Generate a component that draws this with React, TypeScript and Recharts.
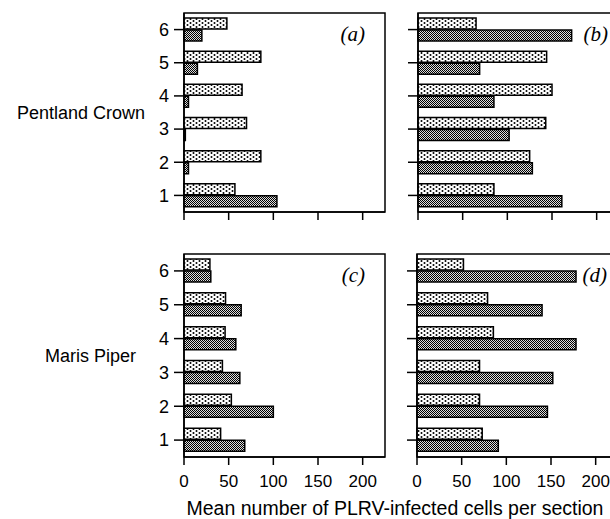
import { BarChart, Bar, XAxis, YAxis, ReferenceArea } from "recharts";

// rows are plant numbers 1..6 (6 drawn at the top)
const categories = ["1", "2", "3", "4", "5", "6"];
const xTicks = [0, 50, 100, 150, 200];

// Pentland Crown
const aLight = [57, 86, 70, 65, 86, 48];
const aDark = [104, 5, 1.5, 5, 15, 20];
const bLight = [85, 125, 143, 150, 144, 65];
const bDark = [161, 128, 102, 85, 69, 172];

// Maris Piper
const cLight = [41, 53, 43, 46, 46.5, 29];
const cDark = [68, 100, 62.5, 58, 64, 30];
const dLight = [73, 70, 70, 85.5, 79, 52];
const dDark = [91, 146, 152, 178, 140, 178];

const SANS = "'Liberation Sans', Arial, sans-serif";
const SERIF = "'Liberation Serif', 'Times New Roman', serif";

const toRows = (light: number[], dark: number[]) =>
  categories.map((cat, i) => ({ cat, light: light[i], dark: dark[i] }));

type PanelProps = {
  light: number[];
  dark: number[];
  left: number;
  top: number;
  yWidth: number;
  marginTop: number;
  height: number;
  xHeight: number;
  showY: boolean;
  showX: boolean;
  tag: string;
  tagRight: number;
  rowLabel?: string;
  rowLabelOffset?: number;
};

function Panel(p: PanelProps) {
  const data = toRows(p.light, p.dark);
  const width = p.yWidth + 201 + 5;
  return (
    <div style={{ position: "absolute", left: p.left, top: p.top }}>
      <BarChart
        width={width}
        height={p.height}
        data={data}
        layout="vertical"
        margin={{ top: p.marginTop, right: 5, left: 0, bottom: 0 }}
        barSize={11}
        barGap={1}
      >
        <XAxis
          type="number"
          domain={[0, 225]}
          ticks={xTicks}
          height={p.xHeight}
          tickSize={8}
          tickMargin={10}
          axisLine={{ stroke: "#000", strokeWidth: 1.5 }}
          tickLine={{ stroke: "#000", strokeWidth: 1.5 }}
          tick={{ fill: "#000", fontSize: 17, fontFamily: SANS }}
          tickFormatter={(v) => (p.showX ? String(v) : "")}
        />
        <YAxis
          type="category"
          dataKey="cat"
          reversed
          width={p.yWidth}
          tickSize={10}
          tickMargin={5}
          axisLine={{ stroke: "#000", strokeWidth: 1.5 }}
          tickLine={{ stroke: "#000", strokeWidth: 1.5 }}
          tick={{ fill: "#000", fontSize: 18, fontFamily: SANS }}
          tickFormatter={(v) => (p.showY ? v : "")}
          label={
            p.rowLabel
              ? {
                  value: p.rowLabel,
                  position: "insideLeft",
                  offset: p.rowLabelOffset,
                  fill: "#000",
                  fontSize: 18,
                  fontFamily: SANS,
                }
              : undefined
          }
        />
        <ReferenceArea
          x1={0}
          x2={225}
          fill="none"
          fillOpacity={0}
          stroke="#000"
          strokeWidth={1.5}
          ifOverflow="visible"
          label={(lp: any) => {
            const vb = lp.viewBox || {};
            return (
              <text
                x={vb.x + vb.width - p.tagRight}
                y={vb.y + 28}
                textAnchor="end"
                fontFamily={SERIF}
                fontStyle="italic"
                fontSize={21}
                fill="#000"
              >
                {p.tag}
              </text>
            );
          }}
        />
        <Bar
          dataKey="light"
          fill="url(#dots)"
          stroke="#000"
          strokeWidth={1.5}
          isAnimationActive={false}
        />
        <Bar
          dataKey="dark"
          fill="url(#hatch)"
          stroke="#000"
          strokeWidth={1.5}
          isAnimationActive={false}
        />
      </BarChart>
    </div>
  );
}

export default function App() {
  return (
    <div
      style={{
        position: "absolute",
        left: 0,
        top: 0,
        width: 610,
        height: 519,
        overflow: "hidden",
        background: "#fff",
      }}
    >
      <svg width={0} height={0} style={{ position: "absolute" }}>
        <defs>
          <pattern id="dots" width={6} height={4} patternUnits="userSpaceOnUse">
            <rect width={6} height={4} fill="#fff" />
            <circle cx={1.5} cy={1} r={1} fill="#000" />
            <circle cx={4.5} cy={3} r={1} fill="#000" />
          </pattern>
          <pattern id="hatch" width={2} height={2} patternUnits="userSpaceOnUse">
            <rect width={2} height={2} fill="#ddd" />
            <rect x={0} y={0} width={1} height={1} fill="#000" />
            <rect x={1} y={1} width={1} height={1} fill="#000" />
          </pattern>
        </defs>
      </svg>

      <Panel
        light={aLight}
        dark={aDark}
        left={0}
        top={0}
        yWidth={184}
        marginTop={13}
        height={240}
        xHeight={28}
        showY
        showX={false}
        tag="(a)"
        tagRight={20}
        rowLabel="Pentland Crown"
        rowLabelOffset={17}
      />
      <Panel
        light={bLight}
        dark={bDark}
        left={390}
        top={0}
        yWidth={28}
        marginTop={13}
        height={240}
        xHeight={28}
        showY={false}
        showX={false}
        tag="(b)"
        tagRight={11}
      />
      <Panel
        light={cLight}
        dark={cDark}
        left={0}
        top={240}
        yWidth={184}
        marginTop={14}
        height={272}
        xHeight={55}
        showY
        showX
        tag="(c)"
        tagRight={20}
        rowLabel="Maris Piper"
        rowLabelOffset={45}
      />
      <Panel
        light={dLight}
        dark={dDark}
        left={390}
        top={240}
        yWidth={27}
        marginTop={14}
        height={272}
        xHeight={55}
        showY={false}
        showX
        tag="(d)"
        tagRight={11}
      />

      <div
        style={{
          position: "absolute",
          left: 180,
          top: 499,
          width: 430,
          textAlign: "center",
          fontFamily: SANS,
          fontSize: 19.5,
          lineHeight: "19.5px",
          color: "#000",
        }}
      >
        Mean number of PLRV-infected cells per section
      </div>
    </div>
  );
}
